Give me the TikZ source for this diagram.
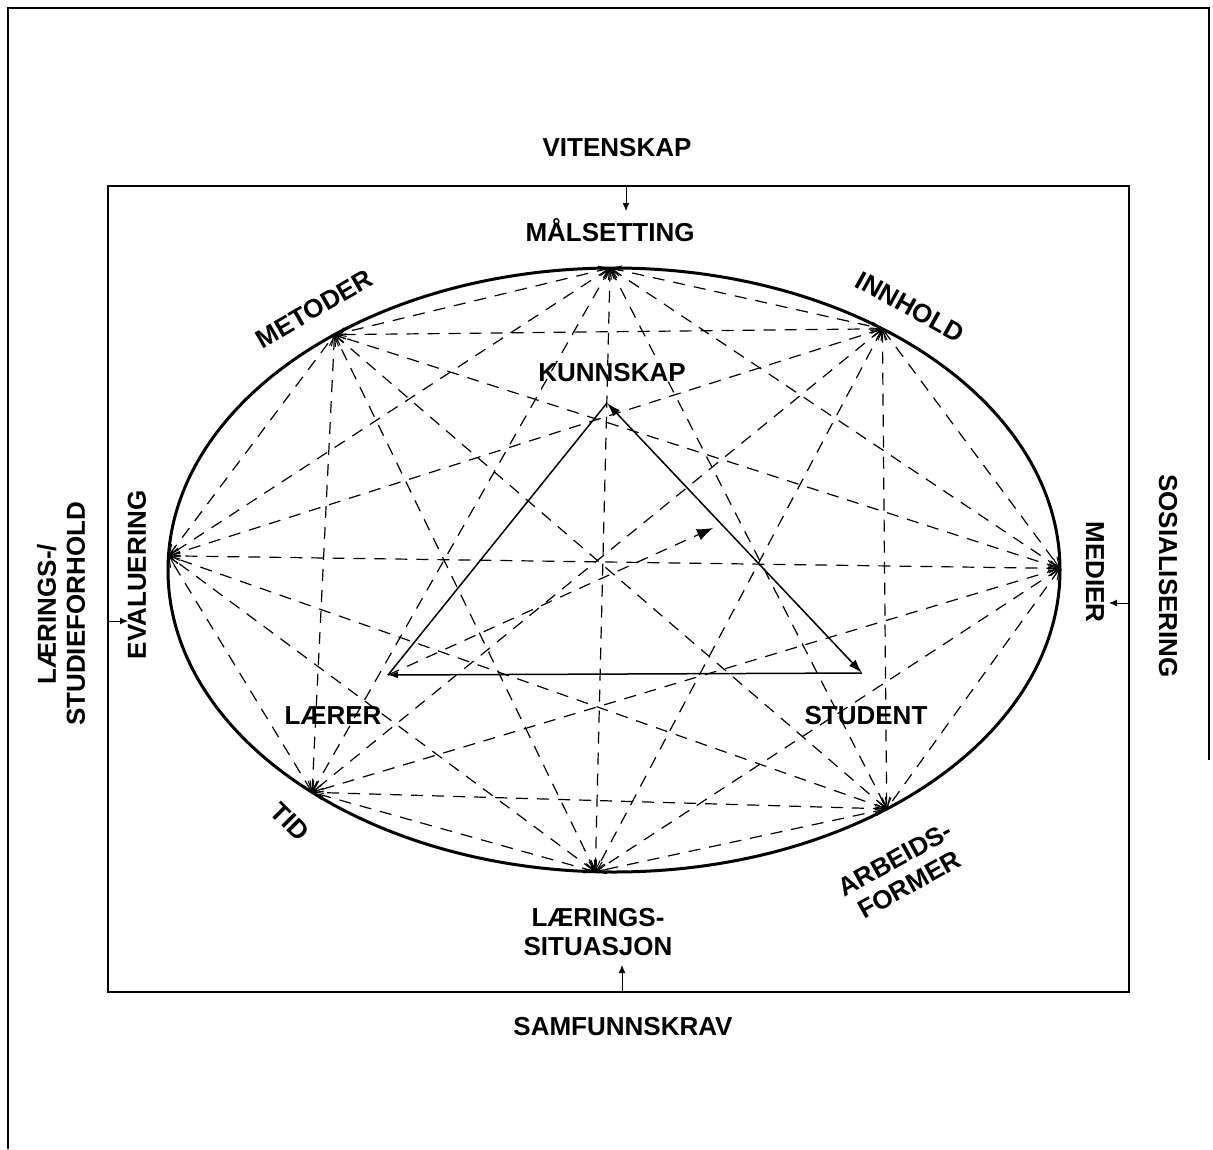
\documentclass[tikz,border=0pt]{standalone}
\usepackage{fontspec}
\setmainfont{Liberation Sans}
\usetikzlibrary{arrows.meta}
\begin{document}
\begin{tikzpicture}[x=1pt,y=-1pt,
  lbl/.style={font=\fontsize{26}{29}\selectfont\bfseries, inner sep=0pt, align=center},
  dashline/.style={line width=1.2pt, dash pattern=on 12pt off 9pt, <->, >={Straight Barb[length=10pt,width=9pt,line width=1pt]}},
  frame/.style={line width=1.2pt},
  tri/.style={line width=1.5pt},
  ttip/.style={-{Latex[length=14pt,width=9pt]}},
  smallarr/.style={line width=1pt,-{Latex[length=8pt,width=7pt]}}
]
\useasboundingbox (0,0) rectangle (1213,1149);
% frames
\draw[frame] (8,1149) -- (8,8) -- (1209,8) -- (1209,760);
\draw[frame] (108,186) rectangle (1129,992);
% points on the ellipse
\coordinate (c) at (614,570);
\coordinate (p1) at (610.1,268.0);
\coordinate (p2) at (882.4,328.8);
\coordinate (p3) at (1060,568.4);
\coordinate (p4) at (886.7,808.9);
\coordinate (p5) at (595.3,871.7);
\coordinate (p6) at (312.1,792.3);
\coordinate (p7) at (168.5,555.8);
\coordinate (p8) at (334.5,334.7);
% dashed complete graph
\foreach \i in {1,...,7}{
  \pgfmathtruncatemacro\nxt{\i+1}
  \foreach \j in {\nxt,...,8}{
    \draw[dashline] (p\i) -- (p\j);
  }
}
% ellipse
\draw[line width=3pt] (c) ellipse [x radius=446pt, y radius=302pt];
% triangle
\coordinate (K) at (607,403);
\coordinate (L) at (388,675);
\coordinate (S) at (862,673);
\coordinate (M) at (713,528);
\draw[tri] (L) -- (K);
\draw[tri, {Latex[length=14pt,width=9pt]}-{Latex[length=14pt,width=9pt]}] (K) -- (S);
\draw[tri, -{Latex[length=10pt,width=7pt]}] (S) -- (L);
\draw[line width=1.2pt, dash pattern=on 12pt off 9pt, -{Latex[length=16pt,width=12pt]}] (L) -- (M);
% labels
\node[lbl] (vit) at (617,148) {VITENSKAP};
\node[lbl] (mal) at (610,230) {MÅLSETTING};
\node[lbl, rotate=30] (met) at (314,309) {METODER};
\node[lbl, rotate=-29] (inn) at (910,307) {INNHOLD};
\node[lbl] (kun) at (612,373) {KUNNSKAP};
\node[lbl, rotate=90] (eva) at (137,575) {EVALUERING};
\node[lbl, rotate=90] (lsf) at (61,614) {LÆRINGS-/\\STUDIEFORHOLD};
\node[lbl, rotate=-90] (med) at (1095,572) {MEDIER};
\node[lbl, rotate=-90] (sos) at (1168,576) {SOSIALISERING};
\node[lbl] (lae) at (333,716) {LÆRER};
\node[lbl] (stu) at (866,716) {STUDENT};
\node[lbl, rotate=-45] (tid) at (290,822) {TID};
\node[lbl, rotate=29] (arb) at (902,872) {ARBEIDS-\\FORMER};
\node[lbl] (lsi) at (598,932) {LÆRINGS-\\SITUASJON};
\node[lbl] (sam) at (623,1027) {SAMFUNNSKRAV};
% small arrows from the outer factors
\coordinate (va) at (626,186); \coordinate (vb) at (626,211);
\coordinate (sa) at (622,992); \coordinate (sb) at (622,965);
\coordinate (la) at (108,621); \coordinate (lb) at (128,621);
\coordinate (ra) at (1129,603); \coordinate (rb) at (1109,603);
\draw[smallarr] (va) -- (vb);
\draw[smallarr] (sa) -- (sb);
\draw[smallarr] (la) -- (lb);
\draw[smallarr] (ra) -- (rb);
\end{tikzpicture}
\end{document}
